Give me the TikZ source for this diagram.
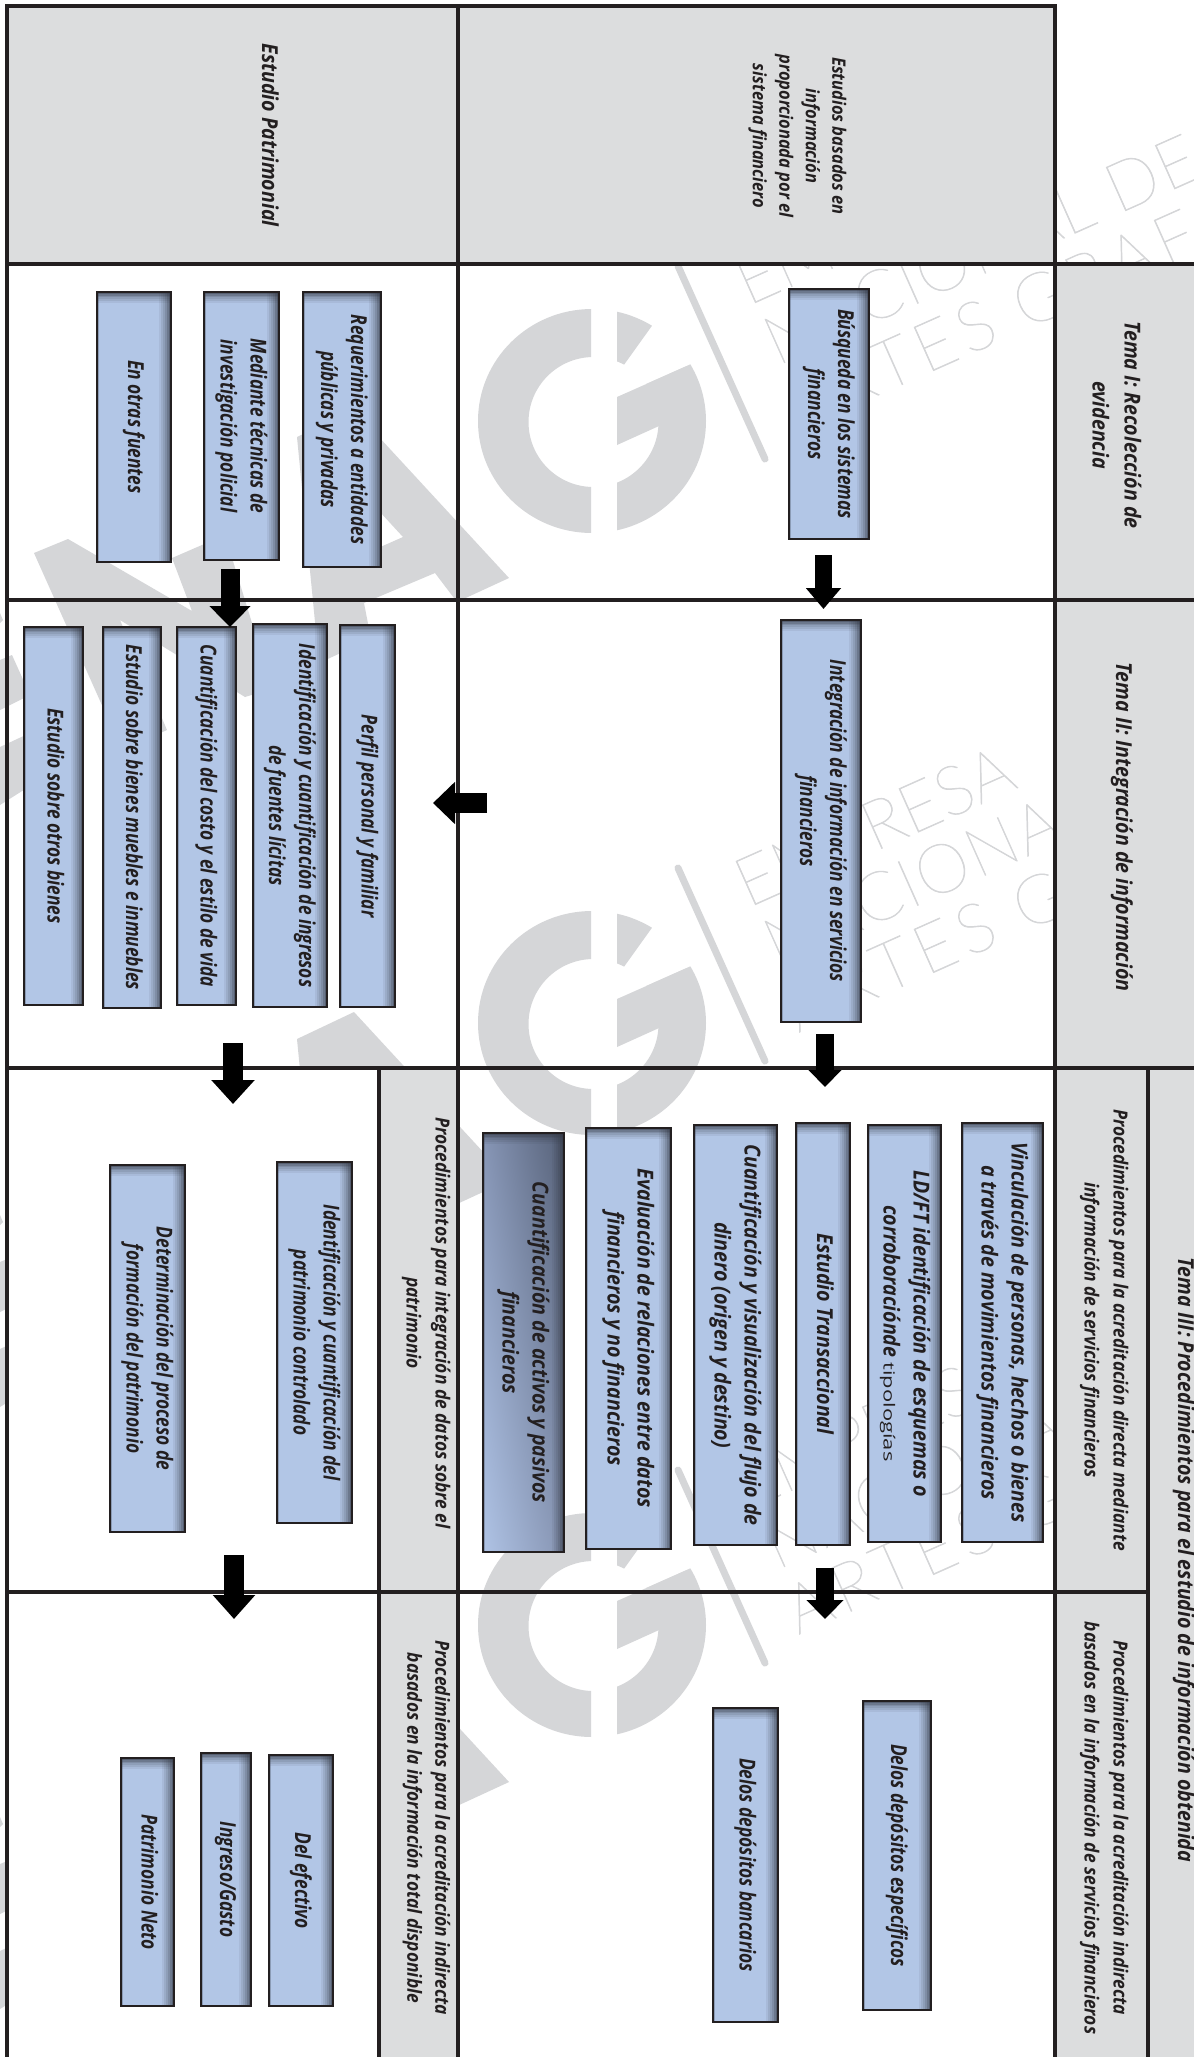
\documentclass[tikz,border=0pt]{standalone}
\usepackage{fontspec}
\usepackage{graphicx}
\usetikzlibrary{arrows.meta,shadings}
\setmainfont{Open Sans}[FakeStretch=0.89]
\newfontfamily\wmfont{Lato Thin}[FakeBold=1]
\definecolor{ink}{HTML}{231F20}
\definecolor{panelgray}{HTML}{DCDDDE}
\definecolor{wmgray}{HTML}{D5D6D8}
\definecolor{boxblue}{HTML}{B2C6E6}
\definecolor{boxshadow}{HTML}{333844}
\newcommand{\vtx}[3]{\rotatebox[origin=c]{-90}{\fontsize{#1}{#2}\selectfont\bfseries\itshape\begin{tabular}{@{}c@{}}#3\end{tabular}}}
\newcommand{\edgeshade}{%
  \foreach \i/\o in {0/0.72,1/0.55,2/0.40,3/0.28,4/0.18,5/0.08}{%
    \fill[boxshadow,opacity=\o] ([xshift={-(\i+1)*2pt}]path picture bounding box.north east) rectangle ([xshift={-\i*2pt}]path picture bounding box.south east);
    \fill[boxshadow,opacity=\o] ([yshift={-\i*1.8pt}]path picture bounding box.north west) rectangle ([yshift={-(\i+1)*1.8pt}]path picture bounding box.north east);
  }%
  \fill[boxshadow,opacity=0.3] (path picture bounding box.north west) rectangle ([xshift=2pt]path picture bounding box.south west);
}
% box whose text keeps the full width
\newcommand{\bxw}[7]{\node[#1,minimum width={(#5-#3)*1pt},minimum height={(#6-#4)*1pt}] (#2) at ({(#3+#5)/2},{(#4+#6)/2}) {\vtx{22}{30}{#7}};}
% box whose text is narrowed along its reading direction
\newcommand{\bxn}[7]{\node[#1,minimum width={(#5-#3)*1pt},minimum height={(#6-#4)*1pt}] (#2) at ({(#3+#5)/2},{(#4+#6)/2}) {\scalebox{1}[0.885]{\vtx{22}{30}{#7}}};}
\definecolor{HTMLa}{HTML}{8695B5}
\definecolor{HTMLb}{HTML}{566178}
\definecolor{HTMLc}{HTML}{AFC3E5}
\definecolor{HTMLd}{HTML}{8795B3}
\tikzset{
  bluebox/.style={draw=ink,line width=1.8pt,fill=boxblue,inner sep=0pt,outer sep=0pt,text=ink,path picture={\edgeshade}},
  darkbox/.style={draw=ink,line width=1.8pt,inner sep=0pt,outer sep=0pt,text=ink,path picture={%
    \shade[shading=bilinear interpolation,upper left=HTMLa,upper right=HTMLb,lower left=HTMLc,lower right=HTMLd] (path picture bounding box.south west) rectangle (path picture bounding box.north east);\edgeshade}},
  panel/.style={fill=panelgray,draw=none},
  gridh/.style={draw=ink,line width=3.6pt},
  gridv/.style={draw=ink,line width=3.2pt},
  paneltext/.style={inner sep=0pt,text=ink},
  wmark/.style={fill=wmgray,draw=none},
  wmtext/.style={text=wmgray,rotate=24,anchor=base west,inner sep=0pt,font=\wmfont\fontsize{68}{68}\selectfont},
  blockarr/.style n args={3}{draw=black,line width=#1pt,-{Triangle[length=#2pt,width=#3pt]}}
}
\begin{document}
\begin{tikzpicture}[x=1pt,y=-1pt]
\useasboundingbox (0,0) rectangle (1194,2057);
\fill[white] (0,0) rectangle (1194,2057);
% watermark
\begin{scope}
\clip (0,0) rectangle (1194,2057);
\foreach \s in {0,602,1204}{
\begin{scope}[shift={(0,\s)}]
  % G
  \begin{scope}\clip (470,300) rectangle (591,540);
    \fill[wmark,even odd rule] (592,421) ellipse [x radius=114,y radius=112] (593.5,422) ellipse [radius=65];
  \end{scope}
  \begin{scope}\clip (617,288) -- (679,288) -- (621,369) -- (617,369) -- cycle;
    \fill[wmark,even odd rule] (592,421) ellipse [x radius=114,y radius=112] (593.5,422) ellipse [radius=65];
  \end{scope}
  \begin{scope}\clip (617,397) -- (700,360) -- (730,360) -- (730,548) -- (617,548) -- cycle;
    \fill[wmark,even odd rule] (592,421) ellipse [x radius=114,y radius=112] (593.5,422) ellipse [radius=65];
  \end{scope}
  \fill[wmark] (617,397) -- (687,366) -- (687,408) -- (659,426) -- (617,445) -- cycle;
  % slanted bar
  \draw[wmgray,line width=7pt,line cap=round] (678,266) -- (765,459);
  % A
  \fill[wmark,even odd rule] (297,437) -- (354,410) -- (509,578) -- (457,602) -- (435,573) -- (364,603) -- (371,639) -- (319,663) -- cycle
     (403,537) -- (360,556) -- (357,487) -- cycle;
  % N and the pieces at the left
  \fill[wmark] (34,553) -- (68,539) -- (192,611) -- (172,558) -- (225,535) -- (252,623) -- (258,693) -- (245,697) -- (120,620) -- (167,730) -- (122,750) -- cycle;
  \fill[wmark] (12,655) -- (30,695) -- (0,710) -- (0,660) -- cycle;
  \fill[wmark] (0,747) -- (30,733) -- (30,786) -- (0,805) -- cycle;
  \fill[wmark] (0,613) -- (3,620) -- (0,623) -- cycle;
  % words
  \node[wmtext] (wmA\s) at (748,306) {EMPRESA};
  \node[wmtext] (wmB\s) at (777,366) {\addfontfeature{LetterSpace=3}NACIONAL DE};
  \node[wmtext] (wmC\s) at (798,431) {\addfontfeature{LetterSpace=10}ARTES GRAFICAS};
\end{scope}}
\end{scope}
% opaque cells and panels
\fill[white] (7,1068) rectangle (379,2057);
\fill[panel] (7,6) rectangle (1055,264);
\fill[panel] (1055,264) rectangle (1194,2057);
\fill[panel] (379,1068) rectangle (458,2057);
% grid
\draw[gridh] (5,6) -- (1057,6);
\draw[gridh] (5,264) -- (1194,264);
\draw[gridh] (5,600) -- (1194,600);
\draw[gridh] (5,1068) -- (1194,1068);
\draw[gridh] (5,1592) -- (1148,1592);
\draw[gridv] (7,4) -- (7,2057);
\draw[gridv] (458,6) -- (458,2057);
\draw[gridv] (1055,4) -- (1055,2057);
\draw[gridv] (379,1068) -- (379,2057);
\draw[gridv] (1148,1068) -- (1148,2057);
% panel texts
\node[paneltext] (h1) at (268,135) {\vtx{22}{30}{Estudio Patrimonial}};
\node[paneltext] (h2) at (798,136) {\vtx{18.5}{26.5}{Estudios basados en\\información\\proporcionada por el\\sistema financiero}};
\node[paneltext] (t1) at (1115,425) {\vtx{22}{32}{Tema I: Recolección de\\evidencia}};
\node[paneltext] (t2) at (1122,827) {\vtx{22}{30}{Tema II: Integración de información}};
\node[paneltext] (t3) at (1184,1560) {\vtx{22}{30}{Tema III: Procedimientos para el estudio de información obtenida}};
\node[paneltext] (p1) at (1105,1330) {\vtx{19.5}{29}{Procedimientos para la acreditación directa mediante\\información de servicios financieros}};
\node[paneltext] (p2) at (1105,1828) {\vtx{19.5}{29}{Procedimientos para la acreditación indirecta\\basados en la información de servicios financieros}};
\node[paneltext] (p3) at (427,1323) {\vtx{19.5}{29}{Procedimientos para integración de datos sobre el\\patrimonio}};
\node[paneltext] (p4) at (427,1828) {\vtx{19.5}{28}{Procedimientos para la acreditación indirecta\\basados en la información total disponible}};
% boxes
\bxn{bluebox}{b01}{97}{292}{171}{562}{En otras fuentes}
\bxn{bluebox}{b02}{204}{292}{279}{560}{Mediante técnicas de\\investigación policial}
\bxn{bluebox}{b03}{303}{292}{381}{567}{Requerimientos a entidades\\públicas y privadas}
\bxn{bluebox}{b04}{789}{289}{869}{539}{Búsqueda en los sistemas\\financieros}
\bxn{bluebox}{b05}{24}{627}{83}{1005}{Estudio sobre otros bienes}
\bxn{bluebox}{b06}{103}{627}{161}{1008}{Estudio sobre bienes muebles e inmuebles}
\bxn{bluebox}{b07}{177}{627}{236}{1005}{Cuantificación del costo y el estilo de vida}
\bxn{bluebox}{b08}{253}{624}{327}{1007}{Identificación y cuantificación de ingresos\\de fuentes lícitas}
\bxn{bluebox}{b09}{340}{625}{395}{1007}{Perfil personal y familiar}
\bxn{bluebox}{b10}{781}{620}{861}{1022}{Integración de información en servicios\\financieros}
\bxw{darkbox}{b11}{483}{1133}{564}{1552}{Cuantificación de activos y pasivos\\financieros}
\bxw{bluebox}{b12}{586}{1128}{671}{1549}{Evaluación de relaciones entre datos\\financieros y no financieros}
\bxw{bluebox}{b13}{694}{1125}{777}{1545}{Cuantificación y visualización del flujo de\\dinero (origen y destino)}
\bxw{bluebox}{b14}{796}{1123}{850}{1545}{Estudio Transaccional}
\bxw{bluebox}{b15}{868}{1125}{941}{1542}{LD/FT identificación de esquemas o\\corroboraciónde \scalebox{1.45}[0.9]{\fontsize{17}{30}\selectfont\mdseries\upshape tipologías}}
\bxw{bluebox}{b16}{962}{1123}{1043}{1542}{Vinculación de personas, hechos o bienes\\a través de movimientos financieros}
\bxn{bluebox}{b17}{277}{1162}{352}{1523}{Identificación y cuantificación del\\patrimonio controlado}
\bxn{bluebox}{b18}{110}{1165}{185}{1532}{Determinación del proceso de\\formación del patrimonio}
\bxn{bluebox}{b19}{269}{1755}{333}{2006}{Del efectivo}
\bxn{bluebox}{b20}{201}{1753}{251}{2006}{Ingreso/Gasto}
\bxn{bluebox}{b21}{121}{1758}{174}{2006}{Patrimonio Neto}
\bxn{bluebox}{b22}{863}{1701}{931}{2010}{Delos depósitos específicos}
\bxn{bluebox}{b23}{713}{1708}{778}{2022}{Delos depósitos bancarios}
% block arrows
\coordinate (a1s) at (230,569); \coordinate (a1e) at (230,627);
\coordinate (a2s) at (233,1043); \coordinate (a2e) at (233,1104);
\coordinate (a3s) at (234,1555); \coordinate (a3e) at (234,1619);
\coordinate (c1s) at (823.5,555); \coordinate (c1e) at (823.5,609);
\coordinate (c2s) at (825,1034); \coordinate (c2e) at (825,1087);
\coordinate (c3s) at (825,1568); \coordinate (c3e) at (825,1619);
\coordinate (ls) at (487,803); \coordinate (le) at (433,803);
\draw[blockarr={19}{21}{40}] (a1s) -- (a1e);
\draw[blockarr={20}{24}{42}] (a2s) -- (a2e);
\draw[blockarr={20}{24}{41}] (a3s) -- (a3e);
\draw[blockarr={17}{21}{34}] (c1s) -- (c1e);
\draw[blockarr={18}{17}{32}] (c2s) -- (c2e);
\draw[blockarr={18}{19}{36}] (c3s) -- (c3e);
\draw[blockarr={20}{22}{41}] (ls) -- (le);
\end{tikzpicture}
\end{document}
